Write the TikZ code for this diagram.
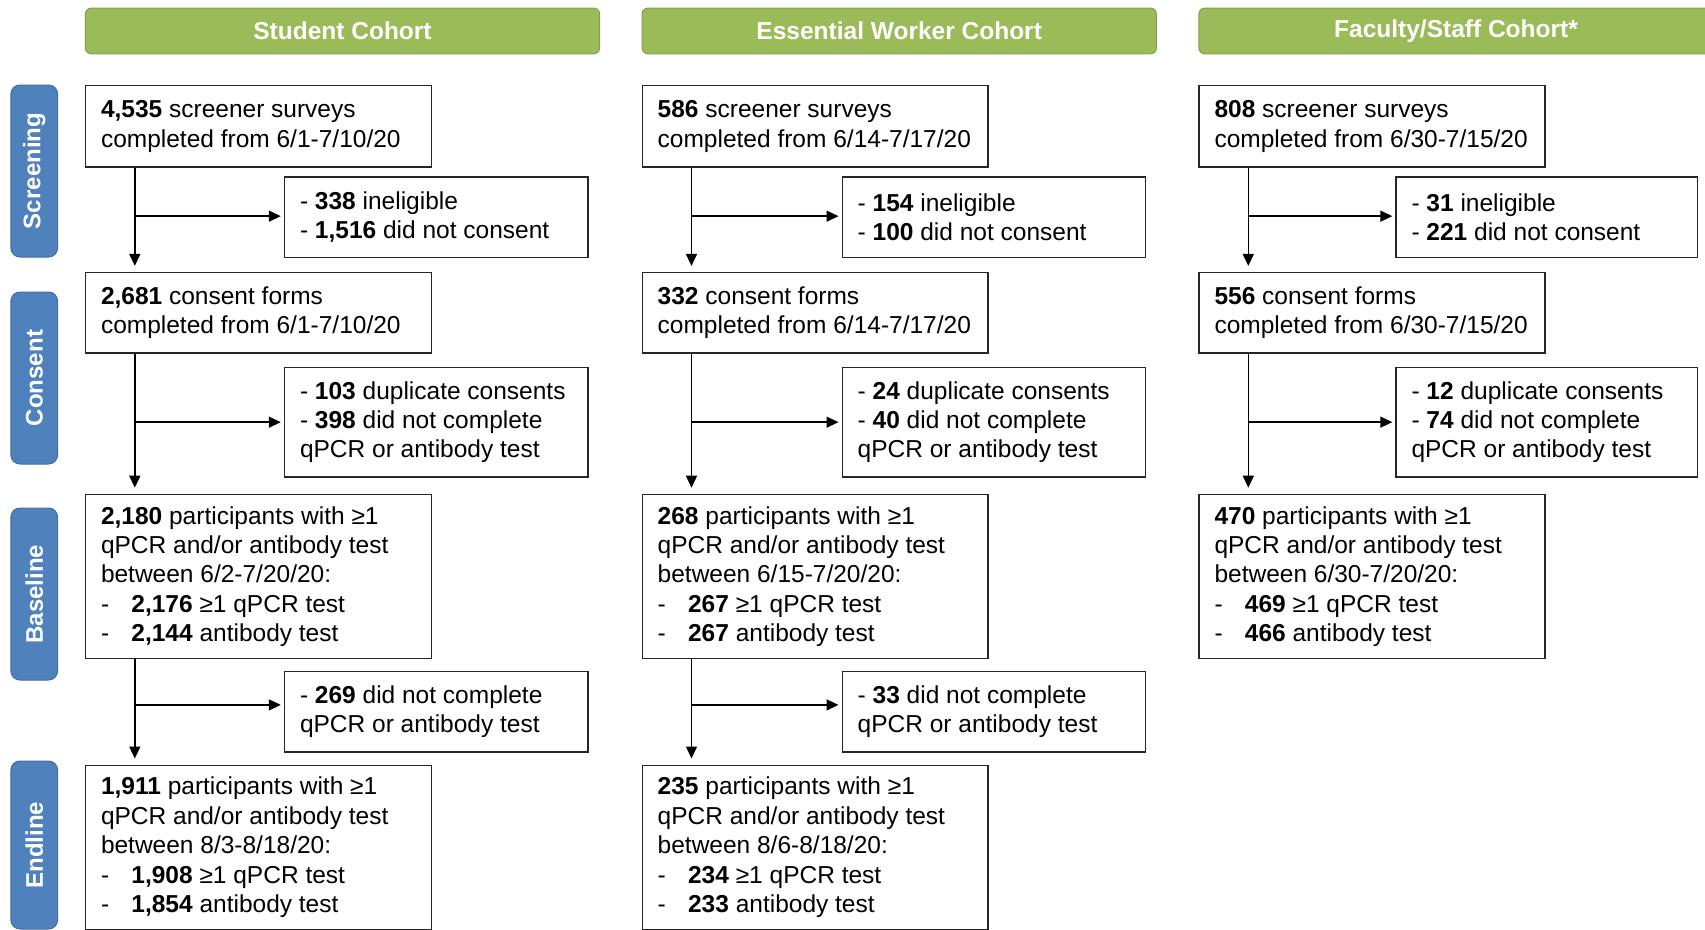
\documentclass[tikz,border=0pt]{standalone}
\usepackage{fontspec}
\setmainfont{Liberation Sans}
\usetikzlibrary{arrows.meta,calc}
\definecolor{hdrgreen}{HTML}{9BBB59}
\definecolor{lblblue}{HTML}{4F81BD}
\tikzset{
  box/.style={draw=black!85, line width=1.5pt, rectangle, inner sep=0pt, anchor=north west},
  txt/.style={anchor=west, align=left, inner sep=0pt, font=\fontsize{24.5}{29.4}\selectfont},
  hdr/.style={fill=hdrgreen, draw=hdrgreen!85!black, line width=1pt, rounded corners=6pt, text=white,
    font=\fontsize{24.5}{29.4}\selectfont\bfseries, minimum width=514.4pt, minimum height=45.7pt, inner sep=0pt, anchor=north west},
  lbl/.style={fill=lblblue, draw=lblblue!85!black, line width=1pt, rounded corners=9pt, text=white,
    font=\fontsize{24}{28}\selectfont\bfseries, minimum width=172pt, minimum height=46.7pt, rotate=90, inner sep=0pt},
  arr/.style={line width=1.5pt, -{Triangle[length=12pt,width=11pt]}, shorten >=6pt},
  harr/.style={line width=1.5pt, -{Triangle[length=12pt,width=11pt]}, shorten >=3pt},
}
\newcommand\flowbox[6]{%
  \node[box, minimum width=#4pt, minimum height=#5pt] (#1) at (#2,#3) {};
  \node[txt] (#1t) at ([xshift=16pt]#1.west) {#6};}
\newcommand\dsh{\makebox[30.4pt][l]{-}}
\begin{document}
\begin{tikzpicture}[x=1pt,y=-1pt]
\useasboundingbox (0,0) rectangle (1705,929);

% headers
\node[hdr] (h1) at (84.8,7.6) {Student Cohort};
\node[hdr] (h2) at (641.5,7.6) {Essential Worker Cohort};
\node[hdr] (h3) at (1198.3,7.6) {Faculty/Staff Cohort*};

% side labels
\node[lbl] (l1) at (34.25,171) {Screening};
\node[lbl] (l2) at (34.25,378) {Consent};
\node[lbl] (l3) at (34.25,594) {Baseline};
\node[lbl, minimum width=168pt] (l4) at (34.25,845) {Endline};

% Student column
\flowbox{a1}{84.8}{84.8}{345.8}{81.6}{\textbf{4,535} screener surveys\\completed from 6/1-7/10/20}
\flowbox{ax1}{283.8}{176.2}{303.4}{80.4}{- \textbf{338} ineligible\\- \textbf{1,516} did not consent}
\flowbox{a2}{84.8}{271.9}{345.8}{80.4}{\textbf{2,681} consent forms\\completed from 6/1-7/10/20}
\flowbox{ax2}{283.8}{366.5}{303.4}{109.8}{- \textbf{103} duplicate consents\\- \textbf{398} did not complete\\qPCR or antibody test}
\flowbox{a3}{84.8}{493.7}{345.8}{164.2}{\textbf{2,180} participants with ≥1\\qPCR and/or antibody test\\between 6/2-7/20/20:\\\dsh\textbf{2,176} ≥1 qPCR test\\\dsh\textbf{2,144} antibody test}
\flowbox{ax3}{283.8}{670.9}{303.4}{80.5}{- \textbf{269} did not complete\\qPCR or antibody test}
\flowbox{a4}{84.8}{764.5}{345.8}{164.2}{\textbf{1,911} participants with ≥1\\qPCR and/or antibody test\\between 8/3-8/18/20:\\\dsh\textbf{1,908} ≥1 qPCR test\\\dsh\textbf{1,854} antibody test}

% Essential worker column
\flowbox{b1}{641.5}{84.8}{345.8}{81.6}{\textbf{586} screener surveys\\completed from 6/14-7/17/20}
\flowbox{bx1}{841.5}{176.2}{303.4}{80.4}{- \textbf{154} ineligible\\- \textbf{100} did not consent}
\flowbox{b2}{641.5}{271.9}{345.8}{80.4}{\textbf{332} consent forms\\completed from 6/14-7/17/20}
\flowbox{bx2}{841.5}{366.5}{303.4}{109.8}{- \textbf{24} duplicate consents\\- \textbf{40} did not complete\\qPCR or antibody test}
\flowbox{b3}{641.5}{493.7}{345.8}{164.2}{\textbf{268} participants with ≥1\\qPCR and/or antibody test\\between 6/15-7/20/20:\\\dsh\textbf{267} ≥1 qPCR test\\\dsh\textbf{267} antibody test}
\flowbox{bx3}{841.5}{670.9}{303.4}{80.5}{- \textbf{33} did not complete\\qPCR or antibody test}
\flowbox{b4}{641.5}{764.5}{345.8}{164.2}{\textbf{235} participants with ≥1\\qPCR and/or antibody test\\between 8/6-8/18/20:\\\dsh\textbf{234} ≥1 qPCR test\\\dsh\textbf{233} antibody test}

% Faculty/staff column
\flowbox{c1}{1198.3}{84.8}{345.8}{81.6}{\textbf{808} screener surveys\\completed from 6/30-7/15/20}
\flowbox{cx1}{1395.3}{176.2}{301.4}{80.4}{- \textbf{31} ineligible\\- \textbf{221} did not consent}
\flowbox{c2}{1198.3}{271.9}{345.8}{80.4}{\textbf{556} consent forms\\completed from 6/30-7/15/20}
\flowbox{cx2}{1395.3}{366.5}{301.4}{109.8}{- \textbf{12} duplicate consents\\- \textbf{74} did not complete\\qPCR or antibody test}
\flowbox{c3}{1198.3}{493.7}{345.8}{164.2}{\textbf{470} participants with ≥1\\qPCR and/or antibody test\\between 6/30-7/20/20:\\\dsh\textbf{469} ≥1 qPCR test\\\dsh\textbf{466} antibody test}

% connectors
\foreach \c in {a,b,c}{
  \coordinate (\c v1) at ([xshift=50pt]\c1.south west);
  \coordinate (\c v2) at ([xshift=50pt]\c2.south west);
  \draw[arr] (\c v1) -- ([xshift=50pt]\c2.north west);
  \draw[harr] ([yshift=1pt]\c v1 |- \c x1.west) -- ([yshift=1pt]\c x1.west);
  \draw[arr] (\c v2) -- ([xshift=50pt]\c3.north west);
  \draw[harr] (\c v2 |- \c x2.west) -- (\c x2.west);
}
\foreach \c in {a,b}{
  \coordinate (\c v3) at ([xshift=50pt]\c3.south west);
  \draw[arr] (\c v3) -- ([xshift=50pt]\c4.north west);
  \draw[harr] ([yshift=7pt]\c v3 |- \c x3.west) -- ([yshift=7pt]\c x3.west);
}
\end{tikzpicture}
\end{document}
